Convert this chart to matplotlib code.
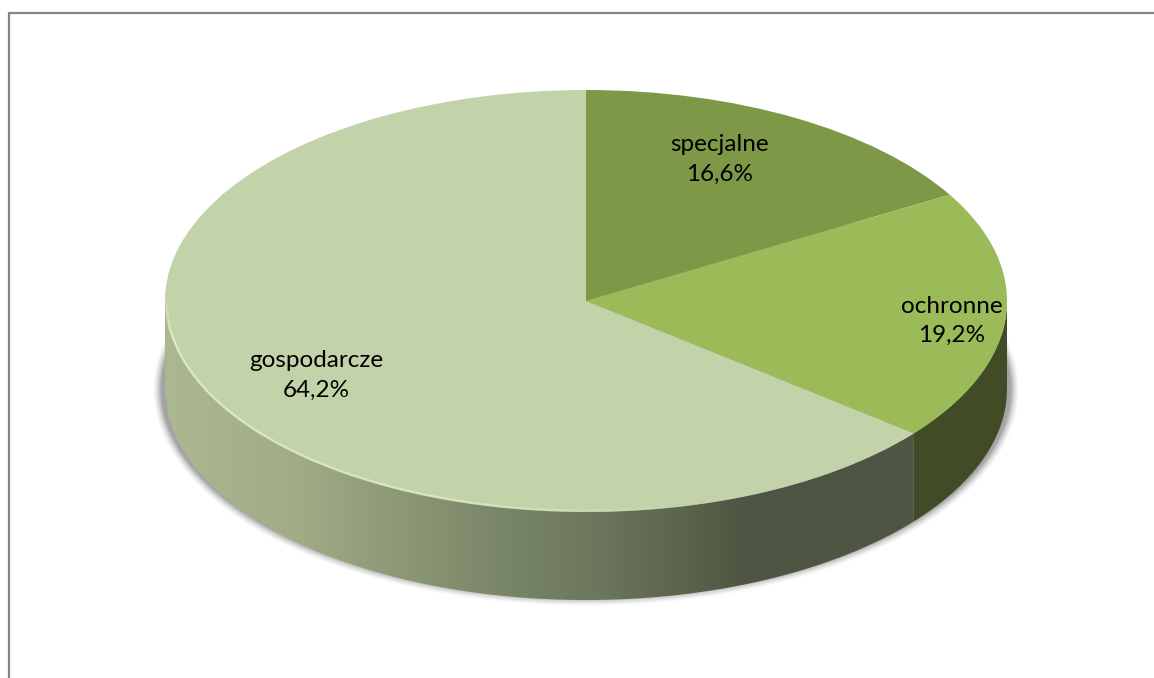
import numpy as np
import matplotlib
matplotlib.use('Agg')
import matplotlib.pyplot as plt
from matplotlib.collections import LineCollection
from matplotlib.colors import to_rgb
from matplotlib.patches import PathPatch
from matplotlib.path import Path

W, H = 1154, 678

# chart data, clockwise from 12 o'clock
categories = ['specjalne', 'ochronne', 'gospodarcze']
values = [16.6, 19.2, 64.2]
value_labels = ['16,6%', '19,2%', '64,2%']

colors = ['#7D9846', '#9BBB59', '#C3D3A9']
side_dark = '#414B26'
label_pos = [(0.318, 0.67), (0.868, -0.094), (-0.641, -0.354)]

# pie geometry in pixels
cx, cy = 586, 301
rx, ry = 421, 211
depth = 88

plt.rcParams['font.family'] = ['Lato', 'DejaVu Sans']

fig = plt.figure(figsize=(W / 100, H / 100), dpi=100, facecolor='white')
bg = fig.add_axes([0, 0, 1, 1])
bg.set_xlim(0, W)
bg.set_ylim(H, 0)
bg.axis('off')

# chart frame, only top and left are visible
bg.plot([8.5, 8.5, W], [H, 12.5, 12.5], color='#868686', lw=1.6, solid_joinstyle='miter')

# soft shadow under the disc
yy, xx = np.mgrid[0:H, 0:W]
sx, sy, srx, sry = 586, 389, 429, 213
u = (xx + 0.5 - sx) / srx
v = (yy + 0.5 - sy) / sry
r = np.sqrt(u ** 2 + v ** 2) + 1e-9
grad = np.sqrt((u / srx) ** 2 + (v / sry) ** 2) / r
dist = (1 - r) / grad
alpha = 0.55 * np.clip(dist / 9 + 0.5, 0, 1) ** 1.5
shadow = np.zeros((H, W, 4))
shadow[..., :3] = 0.35
shadow[..., 3] = alpha
bg.imshow(shadow, extent=(0, W, H, 0), zorder=1, aspect='auto', interpolation='bilinear')

# side band of the cylinder
boundary = np.radians(360 * (values[0] + values[1]) / sum(values))
boundary_x = cx + rx * np.sin(boundary)


def band(x0, x1):
    xs = np.linspace(x0, x1, 200)
    ys = cy + ry * np.sqrt(np.clip(1 - ((xs - cx) / rx) ** 2, 0, 1))
    pts = np.r_[np.c_[xs, ys], np.c_[xs[::-1], ys[::-1] + depth]]
    return Path(np.r_[pts, pts[:1]], closed=True)


xs_grad = np.arange(W) + 0.5
stop_x = [165, 300, 400, 500, 600, 700, 745, 915]
stop_r = [171, 160, 140, 122, 107, 88, 78, 78]
stop_g = [184, 172, 152, 134, 118, 96, 85, 85]
stop_b = [146, 134, 118, 104, 92, 74, 66, 66]
grad_img = np.zeros((1, W, 3))
grad_img[0, :, 0] = np.interp(xs_grad, stop_x, stop_r) / 255
grad_img[0, :, 1] = np.interp(xs_grad, stop_x, stop_g) / 255
grad_img[0, :, 2] = np.interp(xs_grad, stop_x, stop_b) / 255
im = bg.imshow(grad_img, extent=(0, W, H, 0), zorder=2, aspect='auto')
clip = PathPatch(band(cx - rx, boundary_x), transform=bg.transData, fc='none', ec='none')
bg.add_patch(clip)
im.set_clip_path(clip)
bg.add_patch(PathPatch(band(boundary_x, cx + rx), fc=side_dark, ec='none', zorder=2))
bg.set_xlim(0, W)
bg.set_ylim(H, 0)

# top of the disc
ax = fig.add_axes([(cx - rx) / W, 1 - (cy + ry) / H, 2 * rx / W, 2 * ry / H])
ax.patch.set_alpha(0)
ax.pie(values, colors=colors, startangle=90, counterclock=False, radius=1,
       wedgeprops=dict(linewidth=0))
ax.set_aspect('auto')
ax.set_xlim(-1, 1)
ax.set_ylim(-1, 1)

# pale bevel on the lower left rim
t = np.radians(np.linspace(180, 282, 120))
ex = 0.996 * np.cos(t)
ey = 0.993 * np.sin(t)
segs = np.stack([np.c_[ex[:-1], ey[:-1]], np.c_[ex[1:], ey[1:]]], axis=1)
rim = np.ones((len(segs), 4))
rim[:, :3] = to_rgb('#E6F2CC')
rim[:, 3] = np.interp(np.arange(len(segs)), [0, 12, 85, len(segs)], [0.2, 0.8, 0.6, 0])
ax.add_collection(LineCollection(segs, colors=rim, linewidths=1.4))

for name, val, (lx, ly) in zip(categories, value_labels, label_pos):
    ax.text(lx, ly, name + '\n' + val, ha='center', va='center', fontsize=17.5,
            color='black', linespacing=1.5)

fig.savefig('out.png', dpi=100, facecolor='white')
